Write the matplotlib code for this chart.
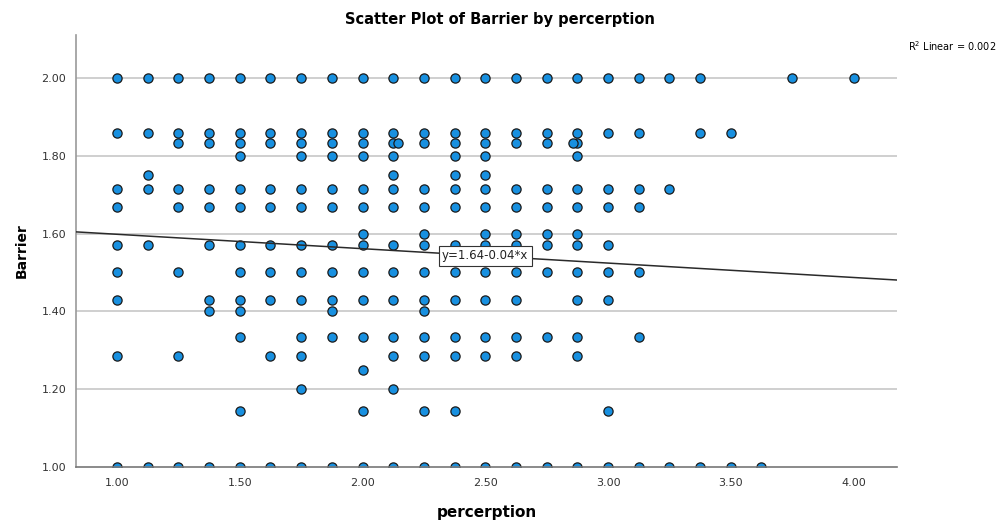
import matplotlib
matplotlib.use("Agg")
from matplotlib import pyplot as plt

# perception values (columns) and the Barrier values seen in each column
perception = [1.000, 1.125, 1.250, 1.375, 1.500, 1.625, 1.750, 1.875, 2.000,
              2.125, 2.250, 2.375, 2.500, 2.625, 2.750, 2.875, 3.000, 3.125,
              3.250, 3.375, 3.500, 3.625, 3.750, 4.000,
              2.143, 2.857]
barrier = [
    [2.0, 1.857, 1.714, 1.667, 1.571, 1.5, 1.429, 1.286, 1.0],
    [2.0, 1.857, 1.75, 1.714, 1.571, 1.0],
    [2.0, 1.857, 1.833, 1.714, 1.667, 1.5, 1.286, 1.0],
    [2.0, 1.857, 1.833, 1.714, 1.667, 1.571, 1.429, 1.4, 1.0],
    [2.0, 1.857, 1.833, 1.8, 1.714, 1.667, 1.571, 1.5, 1.429, 1.4, 1.333, 1.143, 1.0],
    [2.0, 1.857, 1.833, 1.714, 1.667, 1.571, 1.5, 1.429, 1.286, 1.0],
    [2.0, 1.857, 1.833, 1.8, 1.714, 1.667, 1.571, 1.5, 1.429, 1.333, 1.286, 1.2, 1.0],
    [2.0, 1.857, 1.833, 1.8, 1.714, 1.667, 1.571, 1.5, 1.429, 1.4, 1.333, 1.0],
    [2.0, 1.857, 1.833, 1.8, 1.714, 1.667, 1.6, 1.571, 1.5, 1.429, 1.333, 1.25, 1.143, 1.0],
    [2.0, 1.857, 1.833, 1.8, 1.75, 1.714, 1.667, 1.571, 1.5, 1.429, 1.333, 1.286, 1.2, 1.0],
    [2.0, 1.857, 1.833, 1.714, 1.667, 1.6, 1.571, 1.5, 1.429, 1.4, 1.333, 1.286, 1.143, 1.0],
    [2.0, 1.857, 1.833, 1.8, 1.75, 1.714, 1.667, 1.571, 1.5, 1.429, 1.333, 1.286, 1.143, 1.0],
    [2.0, 1.857, 1.833, 1.8, 1.75, 1.714, 1.667, 1.6, 1.571, 1.5, 1.429, 1.333, 1.286, 1.0],
    [2.0, 1.857, 1.833, 1.714, 1.667, 1.6, 1.571, 1.5, 1.429, 1.333, 1.286, 1.0],
    [2.0, 1.857, 1.833, 1.714, 1.667, 1.6, 1.571, 1.5, 1.333, 1.0],
    [2.0, 1.857, 1.833, 1.8, 1.714, 1.667, 1.6, 1.571, 1.5, 1.429, 1.333, 1.286, 1.0],
    [2.0, 1.857, 1.714, 1.667, 1.571, 1.5, 1.429, 1.143, 1.0],
    [2.0, 1.857, 1.714, 1.667, 1.5, 1.333, 1.0],
    [2.0, 1.714, 1.0],
    [2.0, 1.857, 1.0],
    [1.857, 1.0],
    [1.0],
    [2.0],
    [2.0],
    [1.833],
    [1.833],
]

# fit line as drawn
intercept = 1.635
slope = -0.037
fit_label = "y=1.64-0.04*x"
r2_label = "R$^2$ Linear = 0.002"

x_ticks = [1.0, 1.5, 2.0, 2.5, 3.0, 3.5, 4.0]
y_ticks = [1.0, 1.2, 1.4, 1.6, 1.8, 2.0]

xs = []
ys = []
for px, col in zip(perception, barrier):
    for v in col:
        xs.append(px)
        ys.append(v)

fig = plt.figure(figsize=(10, 5.21), dpi=100)
ax = fig.add_axes([0.076, 0.1036, 0.821, 0.8292])
ax.set_xlim(0.833, 4.177)
ax.set_ylim(1.0, 2.11)

for yt in y_ticks[1:]:
    ax.axhline(yt, color="#cfcfcf", lw=1.4, zorder=0)

sc = ax.scatter(xs, ys, s=44, c="#1890e0", edgecolors="#1a1a1a", linewidths=0.9, zorder=3)
sc.set_clip_on(True)
sc.set_clip_path(ax.patch)

xl = [0.833, 4.177]
ax.plot(xl, [intercept + slope * v for v in xl], color="#2a2a2a", lw=1.1, zorder=4)
lx = 2.5
ax.text(lx, intercept + slope * lx, fit_label, ha="center", va="center", fontsize=8.5,
        color="#222222", zorder=5,
        bbox=dict(boxstyle="square,pad=0.3", fc="white", ec="#333333", lw=0.8))

ax.set_xticks(x_ticks)
ax.set_xticklabels(["%.2f" % v for v in x_ticks])
ax.set_yticks(y_ticks)
ax.set_yticklabels(["%.2f" % v for v in y_ticks])
ax.tick_params(axis="both", labelsize=8, colors="#333333", length=0)
ax.tick_params(axis="x", pad=8)
ax.tick_params(axis="y", pad=7)

for s in ["top", "right"]:
    ax.spines[s].set_visible(False)
ax.spines["left"].set_color("#999999")
ax.spines["bottom"].set_color("#777777")
ax.spines["left"].set_linewidth(1.2)
ax.spines["bottom"].set_linewidth(1.2)
ax.spines["bottom"].set_zorder(5)

ax.set_xlabel("percerption", fontsize=11, fontweight="bold", labelpad=12)
ax.set_ylabel("Barrier", fontsize=10, fontweight="bold", labelpad=9)
fig.text(0.5, 0.963, "Scatter Plot of Barrier by percerption", ha="center", va="center",
         fontsize=10.5, fontweight="bold")
fig.text(0.996, 0.912, r2_label, ha="right", va="center", fontsize=7)

fig.savefig("out.png", dpi=100)
